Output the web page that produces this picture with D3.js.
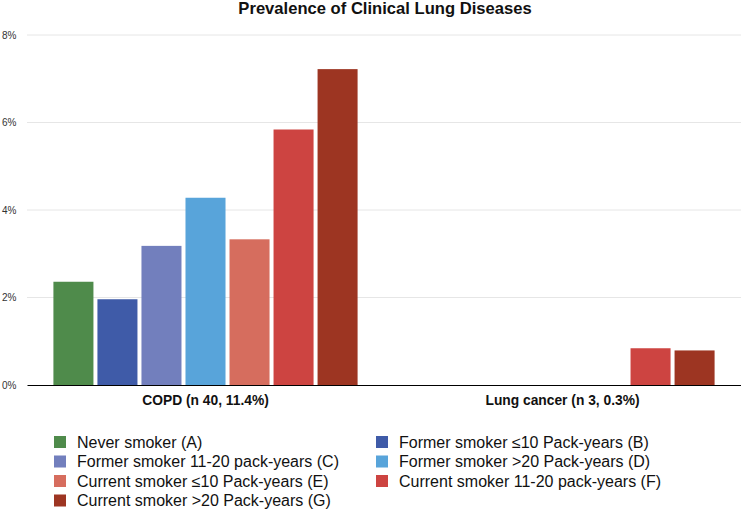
<!DOCTYPE html>
<html>
<head>
<meta charset="utf-8">
<script src="https://cdn.jsdelivr.net/npm/d3@7"></script>
<style>
  html, body { margin: 0; padding: 0; background: #fff; }
  svg { display: block; font-family: "Liberation Sans", Arial, Helvetica, sans-serif; }
</style>
</head>
<body>
<svg id="chart" width="741" height="512"></svg>
<script>
const title = "Prevalence of Clinical Lung Diseases";
const groups = ["COPD (n 40, 11.4%)", "Lung cancer (n 3, 0.3%)"];
const seriesKeys = ["A", "B", "C", "D", "E", "F", "G"];
const seriesLabels = [
  "Never smoker (A)",
  "Former smoker \u226410 Pack-years (B)",
  "Former smoker 11-20 pack-years (C)",
  "Former smoker >20 Pack-years (D)",
  "Current smoker \u226410 Pack-years (E)",
  "Current smoker 11-20 pack-years (F)",
  "Current smoker >20 Pack-years (G)"
];
const seriesColors = ["#4f8b4b", "#3f5ba8", "#727fbd", "#58a4da", "#d66d5e", "#cd4441", "#9d3522"];
// values in percent, per series, per group [COPD, Lung cancer]
const valuesA = [2.36, null];
const valuesB = [1.96, null];
const valuesC = [3.18, null];
const valuesD = [4.28, null];
const valuesE = [3.33, null];
const valuesF = [5.84, 0.84];
const valuesG = [7.22, 0.79];
const yTicks = [0, 2, 4, 6, 8];

const seriesValues = [valuesA, valuesB, valuesC, valuesD, valuesE, valuesF, valuesG];

const svg = d3.select("#chart");
const margin = {left: 27, right: 0, top: 35, bottom: 127};
const W = 741, H = 512;

const x0 = d3.scaleBand().domain(groups).range([margin.left, W - margin.right]).padding(0);
const x1 = d3.scaleBand().domain(seriesKeys).range([0, x0.bandwidth()])
  .paddingInner(0.0909).paddingOuter(0.6);
const y = d3.scaleLinear().domain([0, 8]).range([H - margin.bottom, margin.top]);

// gridlines
svg.append("g")
  .selectAll("line")
  .data(yTicks.filter(t => t > 0))
  .join("line")
  .attr("x1", margin.left).attr("x2", W - margin.right)
  .attr("y1", d => y(d)).attr("y2", d => y(d))
  .attr("stroke", "#e6e6e6").attr("stroke-width", 1);

// y axis labels
const yAxis = d3.axisLeft(y).tickValues(yTicks).tickFormat(d => d + "%").tickSize(0).tickPadding(0);
const yg = svg.append("g").attr("transform", `translate(16.5,0)`).call(yAxis);
yg.select(".domain").remove();
yg.selectAll("text").attr("font-size", 10).attr("fill", "#333").attr("font-family", "Liberation Sans, Arial, sans-serif");

// bars
const data = [];
groups.forEach((g, gi) => {
  seriesKeys.forEach((k, si) => {
    const v = seriesValues[si][gi];
    if (v != null) data.push({group: g, key: k, value: v, color: seriesColors[si]});
  });
});
svg.append("g")
  .selectAll("rect")
  .data(data)
  .join("rect")
  .attr("x", d => x0(d.group) + x1(d.key))
  .attr("width", x1.bandwidth())
  .attr("y", d => y(d.value))
  .attr("height", d => y(0) - y(d.value))
  .attr("fill", d => d.color);

// baseline / x axis
const xAxis = d3.axisBottom(x0).tickSize(0).tickPadding(10);
const xg = svg.append("g").attr("transform", `translate(0,${y(0)})`).call(xAxis);
xg.select(".domain").attr("stroke", "#000").attr("stroke-width", 1.2);
xg.selectAll("text").attr("font-size", 13.8).attr("font-weight", "bold").attr("fill", "#111")
  .attr("font-family", "Liberation Sans, Arial, sans-serif");

// title
svg.append("text")
  .attr("x", (margin.left + W) / 2 + 1).attr("y", 14)
  .attr("text-anchor", "middle")
  .attr("font-size", 16.6).attr("font-weight", "bold").attr("fill", "#111")
  .text(title);

// legend
const legendCols = [54, 376];
const legendTextOffset = 23;
const legendRowY = [442, 461.5, 481, 500.5];
const lg = svg.append("g");
seriesLabels.forEach((lab, i) => {
  const col = i % 2, row = Math.floor(i / 2);
  const gx = legendCols[col], gy = legendRowY[row];
  lg.append("rect").attr("x", gx).attr("y", gy - 6).attr("width", 12).attr("height", 12).attr("fill", seriesColors[i]);
  lg.append("text").attr("x", gx + legendTextOffset).attr("y", gy).attr("dy", "0.35em")
    .attr("font-size", 16).attr("fill", "#111").text(lab);
});
</script>
</body>
</html>
